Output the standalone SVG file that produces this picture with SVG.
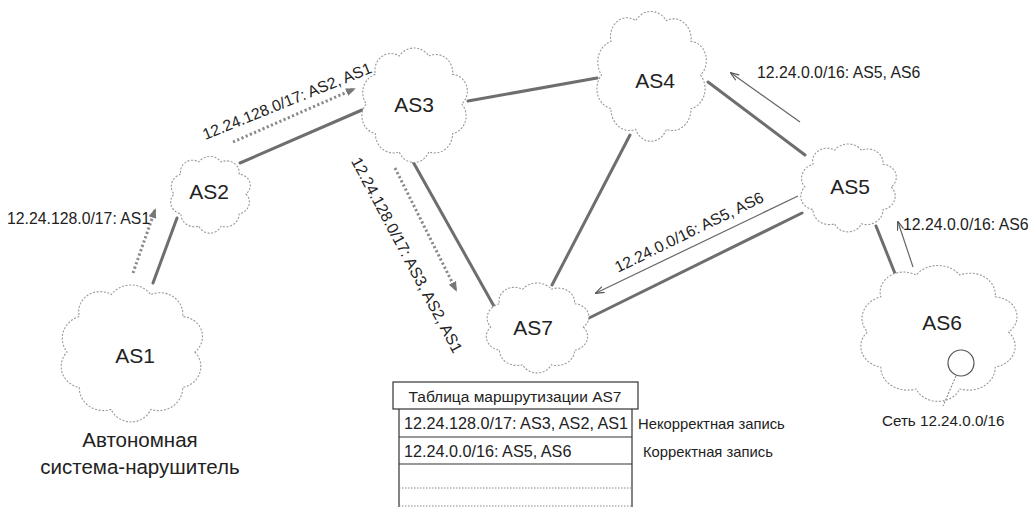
<svg xmlns="http://www.w3.org/2000/svg" width="1031" height="507" viewBox="0 0 1031 507">
<style>
text{font-family:"Liberation Sans",Arial,sans-serif;fill:#222}
.cl{fill:#fff;stroke:#999;stroke-width:1.1;stroke-dasharray:2 1.6;vector-effect:non-scaling-stroke}
.as{font-size:21px;text-anchor:middle;dominant-baseline:central}
.lbl{font-size:15.8px}
.link{stroke:#6e6e6e;stroke-width:3;fill:none;stroke-linecap:round}
.dot{stroke:#8a8a8a;stroke-width:3;fill:none;stroke-dasharray:2.2 2.4;marker-end:url(#dh)}
.thin{stroke:#666;stroke-width:1.2;fill:none;marker-end:url(#th)}
.tb{fill:#fff;stroke:#333;stroke-width:1.2}
</style>
<defs>
<path id="cloud" class="cl" d="M45,0 A16,16 0 0 1 36.41,26.45 A17,17 0 0 1 13.91,42.8 A15,15 0 0 1 -13.91,42.8 A17,17 0 0 1 -36.41,26.45 A16,16 0 0 1 -45,0 A17,17 0 0 1 -36.41,-26.45 A15,15 0 0 1 -13.91,-42.8 A17,17 0 0 1 13.91,-42.8 A16,16 0 0 1 36.41,-26.45 A15,15 0 0 1 45,0 Z"/>
<marker id="dh" viewBox="0 0 10 10" refX="8" refY="5" markerWidth="10" markerHeight="10" markerUnits="userSpaceOnUse" orient="auto"><path d="M0,1 L10,5 L0,9 z" fill="#777"/></marker>
<marker id="th" viewBox="0 0 10 10" refX="9" refY="5" markerWidth="9" markerHeight="9" markerUnits="userSpaceOnUse" orient="auto"><path d="M0,1.5 L10,5 L0,8.5" fill="none" stroke="#555" stroke-width="1.3"/></marker>
</defs>

<g id="connectors">
<line class="link" x1="153" y1="283" x2="177" y2="218"/>
<line class="link" x1="240" y1="163" x2="362" y2="110"/>
<line class="link" x1="468" y1="101" x2="597" y2="78"/>
<line class="link" x1="412" y1="160" x2="495" y2="308"/>
<line class="link" x1="630" y1="135" x2="552" y2="285"/>
<line class="link" x1="708" y1="82" x2="805" y2="155"/>
<line class="link" x1="802" y1="213" x2="585" y2="320"/>
<line class="link" x1="876" y1="226" x2="896" y2="276"/>
<line class="dot" x1="133" y1="273" x2="155" y2="210"/>
<line class="dot" x1="233" y1="142" x2="354" y2="89"/>
<line class="dot" x1="395" y1="168" x2="456" y2="290"/>
<line class="thin" x1="798" y1="196" x2="596" y2="293"/>
<line class="thin" x1="800" y1="122" x2="731" y2="73"/>
<line class="thin" x1="913" y1="267" x2="898" y2="222"/>
</g>

<g id="AS1"><use href="#cloud" transform="translate(131,352) scale(1.42,1.34)"/><text class="as" x="135" y="355">AS1</text></g>
<g id="AS2"><use href="#cloud" transform="translate(210,194) scale(0.8,0.75)"/><text class="as" x="209" y="191">AS2</text></g>
<g id="AS3"><use href="#cloud" transform="translate(414,104) scale(1.06,1.12)"/><text class="as" x="414" y="104">AS3</text></g>
<g id="AS4"><use href="#cloud" transform="translate(651,75) scale(1.1,1.27)"/><text class="as" x="655" y="80">AS4</text></g>
<g id="AS5"><use href="#cloud" transform="translate(848,187) scale(0.96,0.86)"/><text class="as" x="850" y="186">AS5</text></g>
<g id="AS6"><use href="#cloud" transform="translate(938,332) scale(1.57,1.33)"/><text class="as" x="942" y="322">AS6</text>
<circle cx="961" cy="363" r="13" fill="#fff" stroke="#555" stroke-width="1.2"/>
<line x1="956" y1="376" x2="943" y2="406" stroke="#777" stroke-width="1" stroke-dasharray="2 1.5"/>
<text x="882" y="426" style="font-size:15.2px">Сеть 12.24.0.0/16</text></g>
<g id="AS7"><use href="#cloud" transform="translate(537,327) scale(1.03,0.88)"/><text class="as" x="533" y="327">AS7</text></g>

<g id="labels">
<text class="lbl" x="7" y="224">12.24.128.0/17: AS1</text>
<text class="lbl" text-anchor="middle" dominant-baseline="central" transform="translate(287,101) rotate(-22)">12.24.128.0/17: AS2, AS1</text>
<text class="lbl" text-anchor="middle" dominant-baseline="central" transform="translate(407,255) rotate(62)">12.24.128.0/17: AS3, AS2, AS1</text>
<text class="lbl" text-anchor="middle" dominant-baseline="central" transform="translate(689,232) rotate(-26)">12.24.0.0/16: AS5, AS6</text>
<text class="lbl" x="757" y="78">12.24.0.0/16: AS5, AS6</text>
<text class="lbl" x="903" y="230">12.24.0.0/16: AS6</text>
<text x="140" y="447" text-anchor="middle" style="font-size:20.5px">Автономная</text>
<text x="140" y="474" text-anchor="middle" style="font-size:20.5px">система-нарушитель</text>
</g>

<g id="table">
<rect class="tb" x="393" y="382" width="245" height="27"/>
<text x="515" y="396" text-anchor="middle" dominant-baseline="central" style="font-size:15.5px">Таблица маршрутизации AS7</text>
<path d="M399,409 V508 M632,409 V508" stroke="#333" stroke-width="1.2" fill="none"/>
<line x1="399" y1="437" x2="632" y2="437" stroke="#333" stroke-width="1.2"/>
<line x1="399" y1="464" x2="632" y2="464" stroke="#333" stroke-width="1.2"/>
<line x1="399" y1="488" x2="632" y2="488" stroke="#888" stroke-width="1" stroke-dasharray="1.5 1.5"/>
<line x1="399" y1="506" x2="632" y2="506" stroke="#888" stroke-width="1" stroke-dasharray="1.5 1.5"/>
<text x="404" y="428.5" style="font-size:16.2px">12.24.128.0/17: AS3, AS2, AS1</text>
<text x="404" y="456.5" style="font-size:16.2px">12.24.0.0/16: AS5, AS6</text>
<text x="638" y="428.5" style="font-size:14.8px">Некорректная запись</text>
<text x="643" y="456.5" style="font-size:14.8px">Корректная запись</text>
</g>
</svg>
